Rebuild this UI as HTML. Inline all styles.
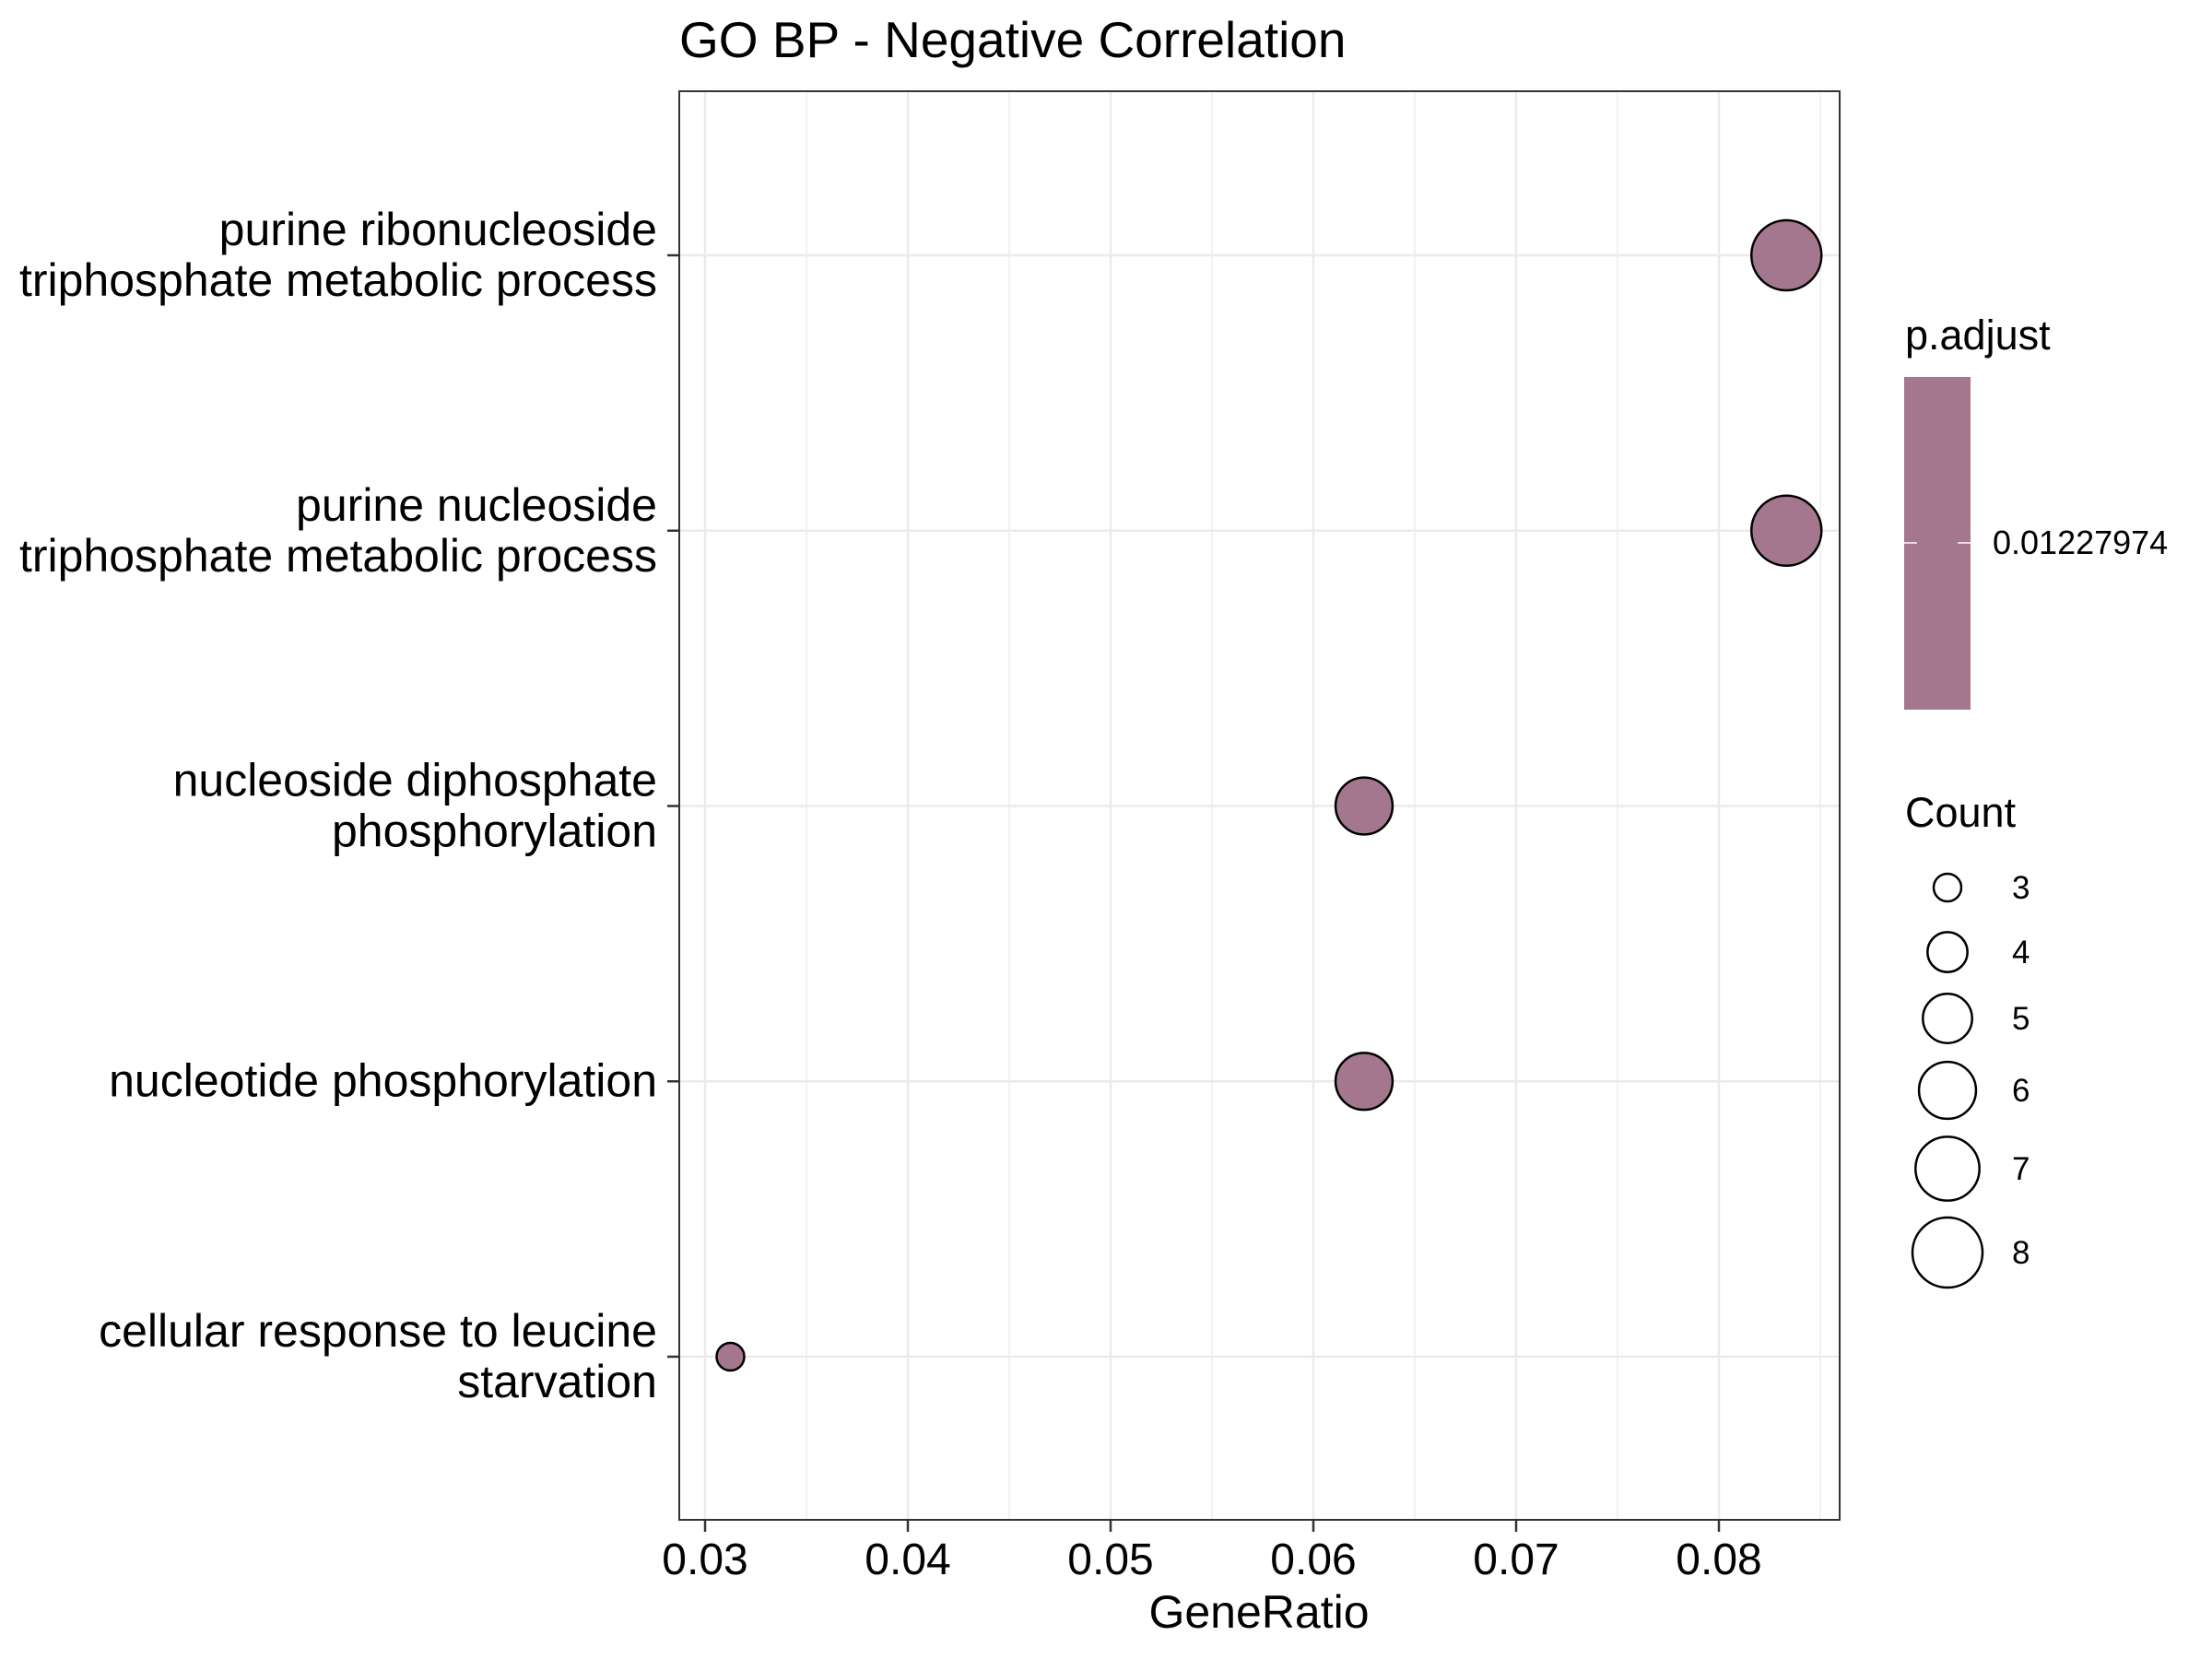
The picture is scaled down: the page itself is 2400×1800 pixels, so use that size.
<!DOCTYPE html>
<html><head><meta charset="utf-8"><style>
html,body{margin:0;padding:0;background:#fff}
svg{display:block;font-family:"Liberation Sans",Arial,sans-serif}
</style></head><body>
<svg id="chart" width="2400" height="1800" viewBox="0 0 2400 1800" xmlns="http://www.w3.org/2000/svg">
<rect width="2400" height="1800" fill="#fff"/>
<text x="737" y="62" font-size="55" fill="#000">GO BP - Negative Correlation</text>
<g id="grid"></g>
<g id="points"></g>
<rect x="737" y="99" width="1259" height="1550" fill="none" stroke="#333" stroke-width="2"/>
<g id="axes"></g>
<text x="1366" y="1766" font-size="50" text-anchor="middle" fill="#000">GeneRatio</text>
<g>
<text x="2067" y="379" font-size="45" fill="#000">p.adjust</text>
<rect x="2066" y="409" width="72" height="361" fill="#A4778E"/>
<line x1="2066" y1="589" x2="2080" y2="589" stroke="#fff" stroke-width="1.5"/>
<line x1="2124" y1="589" x2="2138" y2="589" stroke="#fff" stroke-width="1.5"/>
<text x="2162" y="601" font-size="36" fill="#000">0.01227974</text>
</g>
<g id="sizeLegend">
<text x="2067" y="897" font-size="45" fill="#000">Count</text>
</g>
</svg>
<script>
const categories = ["purine ribonucleoside\ntriphosphate metabolic process","purine nucleoside\ntriphosphate metabolic process","nucleoside diphosphate\nphosphorylation","nucleotide phosphorylation","cellular response to leucine\nstarvation"];
const geneRatio = [0.08333, 0.08333, 0.0625, 0.0625, 0.03125];
const counts = [8, 8, 6, 6, 3];
const xTicks = [0.03, 0.04, 0.05, 0.06, 0.07, 0.08];
const xTickLabels = ["0.03","0.04","0.05","0.06","0.07","0.08"];
const legendCounts = [3, 4, 5, 6, 7, 8];
const legendY = [963, 1033, 1105, 1183, 1268, 1359];

const NS = "http://www.w3.org/2000/svg";
function mk(tag, attrs, parent){const e=document.createElementNS(NS,tag);for(const k in attrs)e.setAttribute(k,attrs[k]);parent.appendChild(e);return e;}
const xScale = v => 765 + (v - 0.03) * 22000;
const yScale = i => 277 + i * 298.75;
const rScale = c => Math.sqrt(225 + (c - 3) * 244);
const grid = document.getElementById('grid'), pts = document.getElementById('points'), axes = document.getElementById('axes'), sl = document.getElementById('sizeLegend');

for (let t = 0.025; t <= 0.0901; t += 0.005) {
  const x = xScale(t);
  if (x < 737 || x > 1996) continue;
  const major = Math.abs(Math.round(t*1000) % 10) < 1;
  const l = mk('line',{x1:x,y1:99,x2:x,y2:1649,stroke:'#EBEBEB','stroke-width':major?2.5:1.3},grid);
  
  
}
categories.forEach((c,i)=>{
  const y=yScale(i);
  const l=mk('line',{x1:737,y1:y,x2:1996,y2:y,stroke:'#EBEBEB','stroke-width':2.5},grid);
  
  
  const tk=mk('line',{x1:724,y1:y,x2:737,y2:y,stroke:'#333','stroke-width':2.5},axes);
  
  
  const lines=c.split('\n');
  const t=mk('text',{x:713,'font-size':50,'text-anchor':'end',fill:'#000'},axes);
  
  
  const base = lines.length===2 ? y-11 : y+16;
  lines.forEach((ln,j)=>{const s=mk('tspan',{x:713,y:base+j*55},t);s.textContent=ln;});
  const cir=mk('circle',{cx:xScale(geneRatio[i]),cy:y,r:rScale(counts[i]),fill:'#A4778E',stroke:'#000','stroke-width':2.5},pts);
  
  
});
xTicks.forEach((v,i)=>{
  const x=xScale(v);
  const tk=mk('line',{x1:x,y1:1649,x2:x,y2:1662,stroke:'#333','stroke-width':2.5},axes);
  
  
  const t=mk('text',{x:x,y:1708,'font-size':48,'text-anchor':'middle',fill:'#000'},axes);
  
  
  t.textContent=xTickLabels[i];
});
legendCounts.forEach((c,i)=>{
  const cir=mk('circle',{cx:2113,cy:legendY[i],r:rScale(c),fill:'none',stroke:'#000','stroke-width':2.5},sl);
  
  
  const t=mk('text',{x:2183,y:legendY[i]+12,'font-size':35,fill:'#000'},sl);
  
  
  t.textContent=String(c);
});
</script>
</body></html>
